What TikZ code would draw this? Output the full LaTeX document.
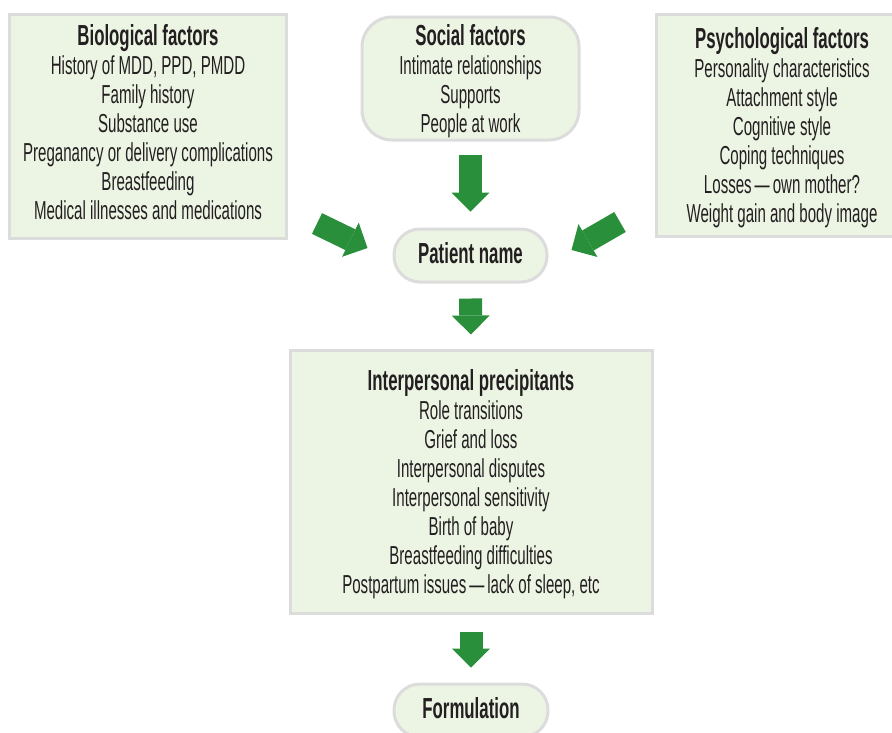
\documentclass[tikz,border=0pt]{standalone}
\usepackage{fontspec}
\setmainfont{Liberation Sans}[FakeStretch=0.58]
\usetikzlibrary{arrows.meta,calc}
\definecolor{boxfill}{RGB}{236,245,228}
\definecolor{boxline}{RGB}{220,220,220}
\definecolor{arrowgreen}{RGB}{42,143,58}
\definecolor{ink}{RGB}{35,31,32}
\newcommand{\boxtitle}[1]{{\bfseries\fontsize{29}{29}\selectfont #1}}
\newcommand{\spaceddash}{\kern3pt---\kern3pt}
\begin{document}
\begin{tikzpicture}[x=1pt,y=-1pt,
  factorbox/.style={draw=boxline, line width=3pt, fill=boxfill, inner sep=0pt,
    align=center, text=ink, text depth=0pt, font=\fontsize{26}{29}\selectfont},
  pill/.style={factorbox, rounded corners=26pt, minimum width=153pt,
    minimum height=53pt, text depth=6pt, font=\bfseries\fontsize{29}{29}\selectfont},
  blockarrow/.style={draw=arrowgreen, line width=23pt,
    -{Triangle[width=38pt,length=19pt,line width=0pt]}}]
\useasboundingbox (0,0) rectangle (892,732);
\fill[white] (0,0) rectangle (892,732);

% factor boxes
\node[factorbox, text depth=8pt, minimum width=277pt, minimum height=224pt] (bio) at (148,126)
  {\boxtitle{Biological factors}\\History of MDD, PPD, PMDD\\Family history\\Substance use\\
   Preganancy or delivery complications\\Breastfeeding\\Medical illnesses and medications};
\node[factorbox, rounded corners=30pt, minimum width=217pt, minimum height=123pt] (social) at (470.5,78.5)
  {\boxtitle{Social factors}\\Intimate relationships\\Supports\\People at work};
\node[factorbox, minimum width=252pt, minimum height=222pt] (psych) at (782,125)
  {\boxtitle{Psychological factors}\\Personality characteristics\\Attachment style\\Cognitive style\\
   Coping techniques\\Losses\spaceddash own mother?\\Weight gain and body image};

% centre and lower column
\node[pill] (patient) at (470.5,255.5) {Patient name};
\node[factorbox, minimum width=362pt, minimum height=263pt] (inter) at (471,481.5)
  {\boxtitle{Interpersonal precipitants}\\Role transitions\\Grief and loss\\Interpersonal disputes\\
   Interpersonal sensitivity\\Birth of baby\\Breastfeeding difficulties\\
   Postpartum issues\spaceddash lack of sleep, etc};
\node[pill, minimum width=154pt] (formulation) at (471,710.5) {Formulation};

% arrows
\coordinate (bioTail) at ($(bio.south east)+(29,-16)$);
\coordinate (bioTip) at ($(patient.west)+(-25,-7.5)$);
\coordinate (psychTail) at ($(psych.south west)+(-34.5,-15.5)$);
\coordinate (psychTip) at ($(patient.east)+(23,-5.5)$);
\draw[blockarrow] (bioTail) -- (bioTip);
\draw[blockarrow] (psychTail) -- (psychTip);
\draw[blockarrow, shorten <=13pt, shorten >=16pt] (social.south) -- (patient.north);
\draw[blockarrow, shorten <=15pt, shorten >=14pt] (patient.south) -- (inter.north);
\draw[blockarrow, shorten <=17pt, shorten >=15pt] (inter.south) -- (formulation.north);
\end{tikzpicture}
\end{document}
